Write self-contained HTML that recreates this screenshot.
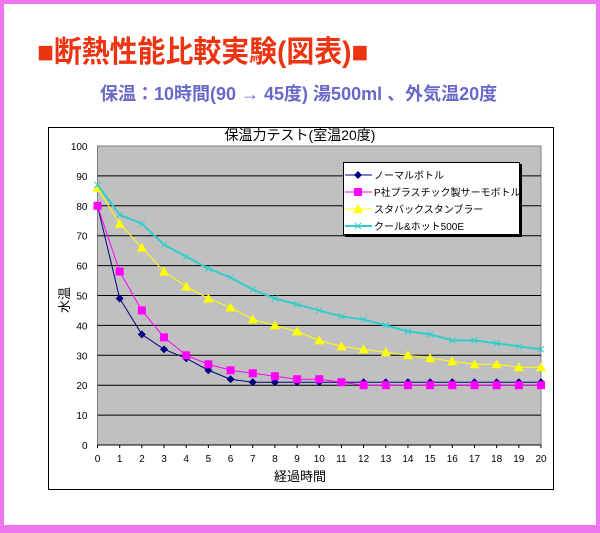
<!DOCTYPE html>
<html><head><meta charset="utf-8"><style>
html,body{margin:0;padding:0;}
body{width:600px;height:533px;position:relative;background:#fff;overflow:hidden;font-family:"Liberation Sans","Noto Sans CJK JP",sans-serif;}
.frame{position:absolute;left:0;top:0;width:592px;height:521px;border:4px solid #ee77ee;border-bottom-width:8px;}
.t1{position:absolute;left:37px;top:27px;font-size:30px;font-weight:bold;color:#ee3311;white-space:nowrap;transform:scaleX(0.93);transform-origin:0 0;}
.t2{position:absolute;left:100px;top:80px;font-size:18px;font-weight:bold;color:#6868c8;white-space:nowrap;}
</style></head><body>
<div class="frame"></div>
<div class="t1">■断熱性能比較実験(図表)■</div>
<div class="t2">保温：10時間(90 → 45度) 湯500ml 、外気温20度</div>
<svg id="s" width="600" height="533" style="position:absolute;left:0;top:0" xmlns="http://www.w3.org/2000/svg" font-family="Liberation Sans, Noto Sans CJK JP, sans-serif"></svg>
<script>
var s=document.getElementById('s');
var X0=97.5,X1=541,Y0=146,Y1=445;
function X(i){return X0+(X1-X0)*i/20}
function Y(v){return Y0+(Y1-Y0)*(100-v)/100}
var h='';
h+='<rect x="48.5" y="127.5" width="505" height="362" fill="#fff" stroke="#000"/>';
h+='<text x="300" y="140" font-size="14" text-anchor="middle">保温力テスト(室温20度)</text>';
h+='<rect x="'+X0+'" y="'+Y0+'" width="'+(X1-X0)+'" height="'+(Y1-Y0)+'" fill="#c0c0c0" stroke="#808080"/>';
for(var v=0;v<=100;v+=10){var y=Y(v);if(v>0&&v<100)h+='<line x1="'+X0+'" x2="'+X1+'" y1="'+y+'" y2="'+y+'" stroke="#000"/>';
h+='<text x="'+(X0-10)+'" y="'+(y+4)+'" font-size="10" text-anchor="end">'+v+'</text>';}
h+='<line x1="'+X0+'" x2="'+X1+'" y1="'+Y1+'" y2="'+Y1+'" stroke="#000"/>';
for(var i=0;i<=20;i++){h+='<line x1="'+X(i)+'" x2="'+X(i)+'" y1="'+Y1+'" y2="'+(Y1+3)+'" stroke="#000"/>';
h+='<text x="'+X(i)+'" y="'+(Y1+17)+'" font-size="10" text-anchor="middle">'+i+'</text>';}
h+='<text x="300" y="481" font-size="13" text-anchor="middle">経過時間</text>';
h+='<text x="0" y="0" font-size="13" text-anchor="middle" transform="translate(69,300) rotate(-90)">水温</text>';
var D=[
[[80,49,37,32,29,25,22,21,21,21,21,21,21,21,21,21,21,21,21,21,21],'#000080','d',1],
[[80,58,45,36,30,27,25,24,23,22,22,21,20,20,20,20,20,20,20,20,20],'#ff00ff','s',1],
[[86,74,66,58,53,49,46,42,40,38,35,33,32,31,30,29,28,27,27,26,26],'#ffff00','t',1],
[[87,77,74,67,63,59,56,52,49,47,45,43,42,40,38,37,35,35,34,33,32],'#33cccc','x',2]];
function mk(t,x,y,c){
if(t=='d')return '<polygon points="'+x+','+(y-4)+' '+(x+4)+','+y+' '+x+','+(y+4)+' '+(x-4)+','+y+'" fill="'+c+'"/>';
if(t=='s')return '<rect x="'+(x-4)+'" y="'+(y-4)+'" width="8" height="8" fill="'+c+'"/>';
if(t=='t')return '<polygon points="'+x+','+(y-5)+' '+(x+5)+','+(y+4)+' '+(x-5)+','+(y+4)+'" fill="'+c+'"/>';
return '<path d="M'+(x-3)+' '+(y-3)+'L'+(x+3)+' '+(y+3)+'M'+(x+3)+' '+(y-3)+'L'+(x-3)+' '+(y+3)+'" stroke="'+c+'"/>';}
D.forEach(function(d){var p=d[0].map(function(v,i){return X(i)+','+Y(v)}).join(' ');
h+='<polyline points="'+p+'" fill="none" stroke="'+d[1]+'" stroke-width="'+d[3]+'"/>';
d[0].forEach(function(v,i){h+=mk(d[2],X(i),Y(v),d[1])});});
h+='<rect x="343.5" y="162.5" width="176" height="72" fill="#fff" stroke="#000"/>';
h+='<rect x="520" y="164" width="2" height="72" fill="#000"/><rect x="345" y="235" width="177" height="2" fill="#000"/>';
var L=['ノーマルボトル','P社プラスチック製サーモボトル','スタバックスタンブラー','クール&ホット500E'];
for(var k=0;k<4;k++){var y=175+k*17;h+='<line x1="345" x2="372" y1="'+y+'" y2="'+y+'" stroke="'+D[k][1]+'" stroke-width="'+D[k][3]+'"/>'+mk(D[k][2],358,y,D[k][1]);
h+='<text x="374" y="'+(y+4)+'" font-size="10">'+L[k]+'</text>';}
s.innerHTML=h;
</script>
</body></html>
